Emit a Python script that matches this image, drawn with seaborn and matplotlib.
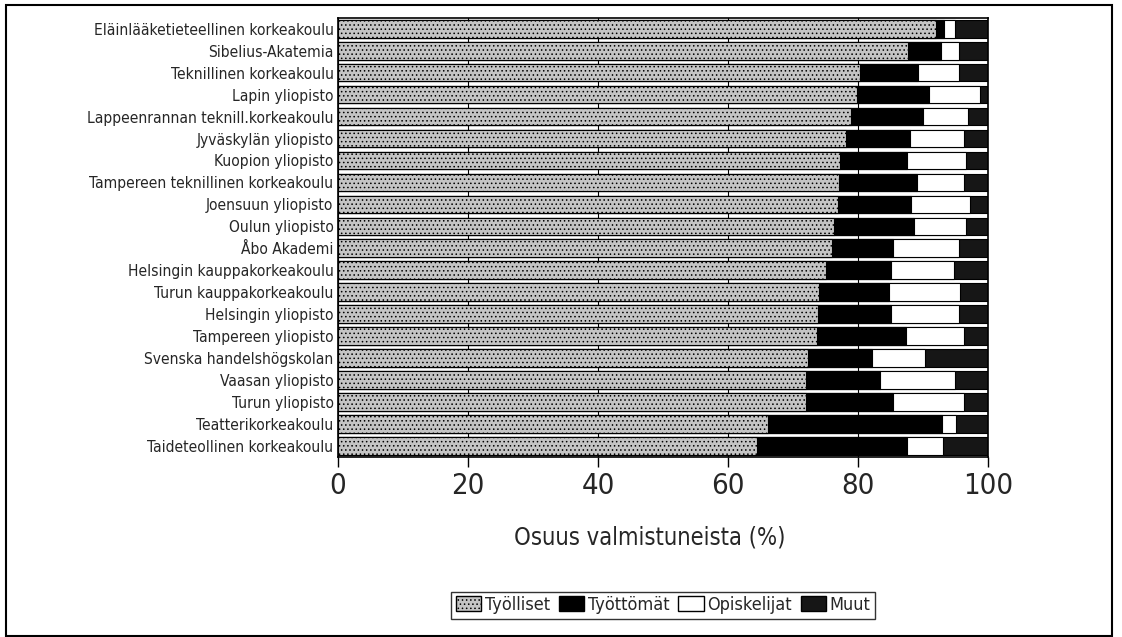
import numpy as np
import pandas as pd
import matplotlib
matplotlib.use("Agg")
import matplotlib.pyplot as plt
import seaborn as sns
from matplotlib.patches import Patch, Rectangle

# data (% of graduates)
schools = [
    "Eläinlääketieteellinen korkeakoulu", "Sibelius-Akatemia", "Teknillinen korkeakoulu",
    "Lapin yliopisto", "Lappeenrannan teknill.korkeakoulu", "Jyväskylän yliopisto",
    "Kuopion yliopisto", "Tampereen teknillinen korkeakoulu", "Joensuun yliopisto",
    "Oulun yliopisto", "Åbo Akademi", "Helsingin kauppakorkeakoulu",
    "Turun kauppakorkeakoulu", "Helsingin yliopisto", "Tampereen yliopisto",
    "Svenska handelshögskolan", "Vaasan yliopisto", "Turun yliopisto",
    "Teatterikorkeakoulu", "Taideteollinen korkeakoulu",
]
tyolliset = [92.0, 87.7, 80.3, 79.8, 78.8, 78.1, 77.2, 77.0, 76.8, 76.3,
             76.0, 75.1, 74.0, 73.8, 73.6, 72.3, 71.9, 71.9, 66.1, 64.4]
tyottomat = [1.2, 5.0, 8.8, 11.0, 11.2, 9.8, 10.3, 12.0, 11.3, 12.2,
             9.3, 9.9, 10.7, 11.2, 13.7, 9.8, 11.5, 13.5, 26.7, 23.1]
opiskelijat = [1.6, 2.8, 6.3, 7.9, 6.8, 8.4, 9.1, 7.2, 9.0, 8.1,
               10.2, 9.7, 10.9, 10.4, 8.9, 8.1, 11.5, 10.8, 2.2, 5.5]
muut = [5.2, 4.5, 4.6, 1.3, 3.2, 3.7, 3.4, 3.8, 2.9, 3.4,
        4.5, 5.3, 4.4, 4.6, 3.8, 9.8, 5.1, 3.8, 5.0, 7.0]

series = ["Työlliset", "Työttömät", "Opiskelijat", "Muut"]
colors = {"Työlliset": "#c4c4c4", "Työttömät": "#000000",
          "Opiskelijat": "#ffffff", "Muut": "#161616"}
hatches = {"Työlliset": "....", "Työttömät": "", "Opiskelijat": "", "Muut": ""}

df = pd.DataFrame({"school": schools, "Työlliset": tyolliset, "Työttömät": tyottomat,
                   "Opiskelijat": opiskelijat, "Muut": muut})
cum = df[series].cumsum(axis=1)

sns.set_theme(style="white")
plt.rcParams["font.family"] = ["DejaVu Sans"]
plt.rcParams["font.stretch"] = "condensed"
plt.rcParams["hatch.linewidth"] = 0.6
plt.rcParams["hatch.color"] = "#666666"

fig = plt.figure(figsize=(11.22, 6.37), dpi=100)
ax = fig.add_axes([0.301, 0.283, 0.58, 0.689])

# stacked bars: draw cumulative totals from the outside in
for s in reversed(series):
    sns.barplot(x=cum[s], y=df["school"], orient="h", color=colors[s],
                edgecolor="black", linewidth=0.8, width=0.8, hatch=hatches[s],
                saturation=1, ax=ax, zorder=2)

ax.set_xlim(0, 100)
ax.set_xticks([0, 20, 40, 60, 80, 100])
ax.xaxis.grid(True, color="black", linewidth=0.8)
ax.set_axisbelow(True)
ax.tick_params(axis="x", labelsize=21, length=7, width=1, direction="out",
               bottom=True, color="black", pad=4)
ax.tick_params(axis="y", labelsize=11.2, length=0, pad=3)
ax.set_ylabel("")
ax.set_xlabel("Osuus valmistuneista (%)", fontsize=17, labelpad=18, x=0.48)
for sp in ax.spines.values():
    sp.set_color("black")
    sp.set_linewidth(1.2)

handles = [Patch(facecolor=colors[s], edgecolor="black", hatch=hatches[s], label=s)
           for s in series]
leg = fig.legend(handles=handles, loc="center", bbox_to_anchor=(0.591, 0.05), ncol=4,
                 frameon=True, fontsize=13, handlelength=1.4, handleheight=0.9,
                 handletextpad=0.2, columnspacing=0.5, borderpad=0.25,
                 fancybox=False, edgecolor="black")
leg.get_frame().set_linewidth(1.0)

fig.patches.append(Rectangle((0.005, 0.002), 0.986, 0.99, transform=fig.transFigure,
                             fill=False, edgecolor="black", linewidth=1.5))

fig.savefig("out.png", dpi=100)
